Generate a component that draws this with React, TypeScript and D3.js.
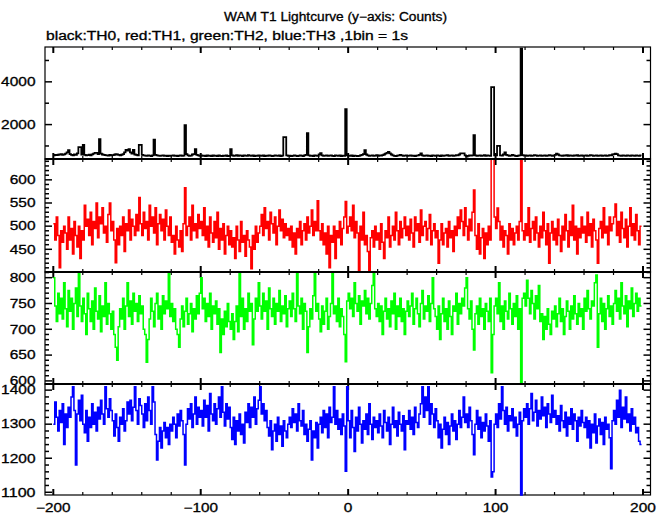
import React from "react";
import * as d3 from "d3";

// ---- data (1 bin = 1 s, first bin at t = -200) ----
const startTime = -200;

const th0Counts = [
  560,580,570,590,600,620,590,610,640,700,800,620,580,560,600,590,650,950,950,600,
  1050,580,560,570,590,560,610,640,680,680,620,1320,640,600,580,570,560,550,580,560,
  570,590,620,600,580,560,590,620,700,820,780,850,700,640,820,600,580,560,1050,1050,
  580,560,550,540,560,550,530,560,1300,580,560,550,540,550,560,540,550,530,550,540,
  550,560,540,550,530,550,560,540,550,1970,620,560,540,550,600,620,850,580,560,540,
  560,540,550,530,560,540,550,520,560,540,550,530,560,540,520,550,540,560,520,540,
  850,560,540,550,570,540,560,550,530,560,550,540,570,550,540,560,530,550,540,560,
  550,540,560,530,550,540,560,550,530,540,560,550,540,560,530,550,1410,1410,560,540,
  550,530,540,560,550,530,540,560,550,520,560,580,1600,560,540,550,530,560,550,540,
  600,660,560,540,550,560,540,550,560,540,530,560,550,540,560,530,550,540,2720,560,
  550,540,560,530,550,540,520,540,560,580,620,800,600,560,540,550,560,540,550,570,
  540,560,550,570,600,640,680,720,650,600,560,540,520,550,560,580,560,540,550,560,
  540,550,560,540,550,530,550,560,580,650,560,540,550,560,540,550,530,560,550,540,
  560,550,530,560,540,550,560,570,540,550,560,540,550,570,560,600,650,650,650,560,
  500,540,560,550,560,1510,560,540,550,560,540,550,570,540,560,550,540,3750,3750,560,
  560,1000,1000,560,550,600,700,580,560,540,550,580,560,540,530,550,560,5550,570,550,
  560,540,550,560,540,550,570,560,540,550,560,540,550,560,540,550,570,560,540,550,
  580,640,600,560,550,540,560,550,570,540,560,550,540,560,550,570,540,550,560,540,
  550,560,540,550,570,560,540,550,560,540,550,560,540,550,560,540,550,570,560,600,
  620,640,620,560,550,540,560,550,540,560,550,540,560,550,540,560,550,540,560,
];

const th1Counts = [
  505,470,520,480,410,490,465,500,485,450,520,470,495,440,510,480,455,500,430,490,
  470,545,500,515,480,530,460,510,495,550,475,520,505,540,485,500,465,525,550,490,
  510,470,421,495,460,500,480,520,445,505,490,535,470,515,500,480,525,490,562,505,
  480,530,495,510,470,545,500,520,485,540,460,505,525,490,515,470,535,500,480,520,
  465,480,440,500,470,455,490,445,505,583,480,500,520,470,545,490,505,475,525,495,
  510,480,540,470,500,455,520,485,465,510,475,530,450,495,470,505,440,480,500,460,
  490,455,475,430,500,470,445,510,465,480,435,490,470,455,408,480,450,500,465,485,
  500,525,480,540,495,510,470,530,505,485,520,460,500,535,490,515,475,505,480,495,
  470,500,455,485,440,495,475,510,460,490,505,470,520,485,500,535,480,510,490,555,
  490,470,505,460,485,440,500,410,480,465,500,430,490,475,510,460,495,520,553,485,
  500,520,490,545,475,510,485,405,500,470,530,460,480,445,402,475,490,455,500,470,
  485,450,505,465,430,490,475,520,455,480,500,470,530,490,460,510,475,495,520,480,
  500,470,515,485,455,520,490,505,465,535,480,500,510,470,495,525,460,490,505,475,
  490,420,470,505,460,485,495,455,510,475,490,445,500,480,520,495,535,510,480,540,
  500,470,515,490,530,578,480,450,505,440,475,495,430,485,460,500,470,660,660,520,
  495,539,510,470,500,455,490,480,440,505,470,495,460,485,500,470,510,660,490,470,
  505,480,540,465,495,510,470,520,485,455,500,475,530,490,460,505,420,485,510,470,
  495,460,515,480,445,500,470,525,490,455,510,480,545,470,500,440,495,475,520,485,
  500,465,530,480,505,455,515,490,470,420,495,510,475,540,485,500,460,520,490,505,
  520,548,480,510,465,530,495,475,515,455,500,540,480,505,470,525,490,460,500,
];

const th2Counts = [
  800,745,715,770,730,760,720,790,740,705,775,735,760,700,750,780,725,810,745,715,
  760,730,690,770,740,715,755,700,780,735,720,765,695,745,725,790,710,750,730,700,
  735,690,665,640,705,740,720,760,700,745,790,725,755,710,770,735,750,715,765,730,
  745,700,690,636,680,720,760,735,705,750,770,720,745,700,765,730,755,740,810,725,
  750,715,740,700,690,665,720,745,705,735,760,710,730,750,695,740,720,765,730,770,
  800,740,760,715,750,725,770,700,745,730,755,710,740,655,720,690,735,705,750,715,
  700,730,680,715,745,695,810,725,760,700,740,715,770,735,750,670,720,760,735,790,
  745,720,770,735,755,700,780,740,725,760,710,750,735,775,715,745,730,765,705,740,
  755,725,770,740,715,810,745,730,760,700,750,735,655,705,740,720,765,810,735,750,
  720,695,745,710,735,760,700,725,750,810,730,745,715,760,705,740,725,690,637,755,
  770,740,760,725,790,750,735,765,710,755,745,775,730,760,720,750,785,810,740,725,
  750,715,745,690,735,760,720,740,705,755,730,770,700,745,725,760,715,740,690,735,
  755,725,745,770,710,740,760,730,705,750,775,720,745,735,765,715,750,800,740,725,
  700,745,680,730,760,715,740,700,755,725,690,745,735,770,710,750,730,760,745,780,
  800,740,720,755,700,660,730,745,710,760,725,740,700,750,735,715,760,616,690,745,
  760,730,790,715,745,700,755,735,720,770,740,710,750,725,765,700,740,585,760,770,
  745,795,760,730,775,750,720,765,740,785,715,730,680,725,700,740,710,690,735,720,
  745,705,730,760,715,740,690,725,755,735,700,745,720,765,730,710,750,725,740,700,
  760,735,775,740,720,755,745,790,805,665,730,760,715,750,700,740,765,725,745,710,
  750,775,735,760,720,790,745,730,765,705,755,740,780,725,750,770,735,760,745,
];

const th3Counts = [
  1300,1365,1320,1280,1340,1305,1360,1240,1330,1290,1350,1320,1380,1410,1340,1180,1330,1370,1310,1385,
  1300,1275,1340,1250,1320,1290,1360,1300,1335,1280,1350,1315,1370,1330,1300,1410,1345,1320,1375,1340,
  1310,1265,1330,1290,1250,1320,1300,1345,1280,1310,1365,1330,1370,1310,1350,1410,1340,1300,1375,1355,
  1330,1290,1360,1310,1380,1340,1300,1410,1365,1270,1195,1250,1290,1230,1280,1305,1260,1290,1240,1300,
  1280,1320,1300,1260,1330,1295,1340,1310,1270,1180,1300,1345,1315,1360,1290,1330,1380,1300,1350,1320,
  1340,1295,1370,1320,1355,1280,1390,1330,1310,1360,1300,1345,1380,1320,1410,1335,1295,1360,1315,1350,
  1290,1255,1320,1240,1310,1280,1330,1270,1300,1245,1335,1305,1360,1290,1350,1320,1380,1300,1345,1370,
  1410,1330,1360,1310,1340,1290,1265,1310,1225,1280,1300,1250,1320,1270,1295,1235,1310,1280,1260,1300,
  1320,1290,1345,1305,1330,1280,1360,1310,1295,1340,1270,1300,1250,1285,1310,1195,1280,1260,1305,1230,
  1300,1320,1275,1340,1290,1330,1260,1350,1305,1320,1410,1300,1340,1285,1315,1270,1330,1295,1162,1410,
  1310,1260,1340,1290,1220,1320,1280,1350,1300,1245,1310,1285,1330,1270,1360,1300,1255,1320,1290,1310,
  1275,1330,1295,1260,1340,1305,1280,1320,1240,1300,1350,1290,1310,1265,1335,1300,1280,1325,1225,1310,
  1300,1340,1285,1320,1270,1350,1305,1290,1330,1360,1410,1320,1380,1340,1410,1300,1360,1330,1290,1345,
  1310,1260,1300,1230,1285,1320,1270,1305,1240,1295,1330,1280,1310,1255,1300,1340,1290,1320,1380,1305,
  1330,1290,1350,1310,1270,1210,1300,1340,1285,1320,1260,1305,1280,1330,1295,1250,1310,1145,1160,1300,
  1330,1290,1360,1315,1410,1340,1300,1350,1280,1325,1310,1345,1290,1320,1265,1300,1335,1092,1310,1345,
  1320,1360,1300,1345,1390,1310,1335,1370,1295,1340,1315,1380,1325,1350,1290,1360,1330,1305,1385,1320,
  1340,1300,1325,1280,1355,1310,1290,1335,1265,1320,1300,1345,1285,1330,1310,1250,1320,1295,1340,1305,
  1290,1320,1260,1310,1230,1300,1275,1330,1245,1295,1315,1270,1305,1240,1320,1285,1300,1260,1169,1310,
  1340,1300,1370,1320,1400,1290,1350,1315,1380,1305,1330,1280,1345,1300,1320,1275,1290,1250,1240,
];

const seriesColors = ["#000000", "#ff0000", "#00ff00", "#0000ff"];
const yDomains = [[390, 5630], [401, 645], [594, 811], [1092, 1418]];
const yLabelTicks = [[2000, 4000], [450, 500, 550, 600], [600, 650, 700, 750, 800], [1100, 1200, 1300, 1400]];
const yMinorSteps = [1000, 10, 10, 20];
const yMajorSteps = [2000, 50, 50, 100];
const xLabelTicks = [-200, -100, 0, 100, 200];
const titleText = "WAM T1 Lightcurve (y\u2212axis: Counts)";
const subtitleText = "black:TH0, red:TH1, green:TH2, blue:TH3 ,1bin = 1s";

// ---- layout ----
const W = 669, H = 515;
const frameL = 45, frameR = 650.5;
const panelEdges = [47, 159, 272, 384, 495];
const FONT = "'Liberation Sans', Arial, Helvetica, sans-serif";
const CHAR_W = 8.6;

const x = d3.scaleLinear().domain([-200, 200]).range([53.3, 643]);

function Label({ text, xPos, y, anchor, size = 12, per = CHAR_W }: any) {
  const len = text.length * per;
  let x0 = xPos;
  if (anchor === "end") x0 = xPos - len;
  if (anchor === "middle") x0 = xPos - len / 2;
  return (
    <text x={x0} y={y} fontFamily={FONT} fontSize={size} textLength={len} lengthAdjust="spacingAndGlyphs"
      fill="#000" stroke="#000" strokeWidth={0.3}>
      {text}
    </text>
  );
}

function Panel({ idx, values }: { idx: number; values: number[] }) {
  const top = panelEdges[idx], bottom = panelEdges[idx + 1];
  const [d0, d1] = yDomains[idx];
  const y = d3.scaleLinear().domain([d0, d1]).range([bottom, top]);
  const pts: [number, number][] = values.map((v, i) => [startTime + i, v]);
  pts.push([startTime + values.length, values[values.length - 1]]);
  const line = d3.line<[number, number]>().x(d => x(d[0])).y(d => y(d[1])).curve(d3.curveStepAfter);

  const minor = yMinorSteps[idx], major = yMajorSteps[idx];
  const yTicks: number[] = [];
  for (let v = Math.ceil(d0 / minor) * minor; v <= d1; v += minor) yTicks.push(v);
  const xTicks: number[] = [];
  for (let t = -200; t <= 200; t += 20) xTicks.push(t);
  const clipId = `clip${idx}`;

  return (
    <g>
      <defs>
        <clipPath id={clipId}>
          <rect x={frameL} y={top - 1} width={frameR - frameL} height={bottom - top + 2} />
        </clipPath>
      </defs>
      <rect x={frameL} y={top} width={frameR - frameL} height={bottom - top} fill="none" stroke="#000" strokeWidth={1.2} />
      {xTicks.map(t => {
        const len = t % 100 === 0 ? 6 : 3;
        const sw = t % 100 === 0 ? 2 : 1.2;
        return (
          <g key={`xt${t}`} stroke="#000" strokeWidth={sw}>
            <line x1={x(t)} x2={x(t)} y1={top} y2={top + len} />
            <line x1={x(t)} x2={x(t)} y1={bottom} y2={bottom - len} />
          </g>
        );
      })}
      {yTicks.map(v => {
        const isMajor = Math.abs(v / major - Math.round(v / major)) < 1e-9;
        const len = isMajor ? 7 : 4;
        return (
          <g key={`yt${v}`} stroke="#000" strokeWidth={1.5}>
            <line x1={frameL} x2={frameL + len} y1={y(v)} y2={y(v)} />
            <line x1={frameR} x2={frameR - len} y1={y(v)} y2={y(v)} />
          </g>
        );
      })}
      {yLabelTicks[idx].map(v => (
        <Label key={`yl${v}`} text={String(v)} xPos={35.5} y={y(v) + 4.3} anchor="end" />
      ))}
      <path d={line(pts) || ""} fill="none" stroke={seriesColors[idx]} strokeWidth={idx === 0 ? 1.8 : 1.5}
        clipPath={`url(#${clipId})`} />
    </g>
  );
}

export default function App() {
  const all = [th0Counts, th1Counts, th2Counts, th3Counts];
  return (
    <svg width={W} height={H} style={{ position: "absolute", left: 0, top: 0, background: "#fff" }}>
      <rect x={0} y={0} width={W} height={H} fill="#fff" />
      <Label text={titleText} xPos={224} y={21} anchor="start" size={12} per={223 / titleText.length} />
      <Label text={subtitleText} xPos={46} y={40} anchor="start" size={12} per={362 / subtitleText.length} />
      {all.map((vals, i) => (
        <Panel key={i} idx={i} values={vals} />
      ))}
      {[159, 272, 384].map(yy => (
        <line key={yy} x1={frameL} x2={frameR} y1={yy} y2={yy} stroke="#000" strokeWidth={2} />
      ))}
      {xLabelTicks.map(t => (
        <Label key={`xl${t}`} text={t < 0 ? `\u2212${-t}` : String(t)} xPos={x(t)} y={512} anchor="middle" />
      ))}
    </svg>
  );
}
